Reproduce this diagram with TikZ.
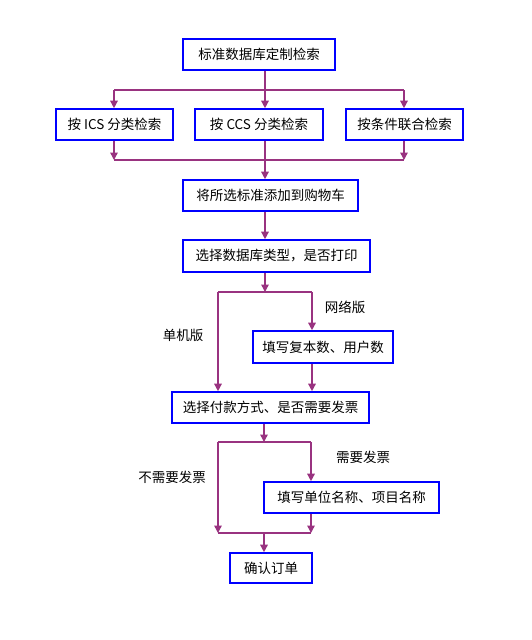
\documentclass[tikz,border=0pt]{standalone}
\usepackage{fontspec}
\setmainfont{Noto Sans CJK SC}
\definecolor{boxblue}{HTML}{0000FF}
\definecolor{linkplum}{HTML}{993380}
\usetikzlibrary{arrows.meta, positioning, calc}
\tikzset{
	stepbox/.style={draw=boxblue, line width=1.6pt, fill=white, inner sep=0pt,
			minimum height=31pt, font=\fontsize{13.5}{15}\selectfont}
}
\tikzset{
	link/.style={draw=linkplum, line width=1.4pt}
}
\tikzset{
	arr/.style={link, -{Triangle[length=7.5pt,width=7.5pt]}}
}
\tikzset{
	branchtext/.style={font=\fontsize{13.5}{15}\selectfont}
}
\begin{document}
\begin{tikzpicture}[x=1pt,y=-1pt]

			\useasboundingbox (0,0) rectangle (531,640);

			\begin{scope}
				\node[stepbox, minimum width=152pt] (search) at (259,54.5) {标准数据库定制检索};
				\node[stepbox, minimum width=117pt] (ics) at (114.5,124.5) {按 ICS 分类检索};
				\node[stepbox, minimum width=128pt] (ccs) at (259,124.5) {按 CCS 分类检索};
				\node[stepbox, minimum width=117pt] (combo) at (404.5,124.5) {按条件联合检索};
				\node[stepbox, minimum width=175pt] (cart) at (270.5,195.5) {将所选标准添加到购物车};
				\node[stepbox, minimum width=187pt, minimum height=32pt] (dbtype) at (276.5,256) {选择数据库类型，是否打印};
				\node[stepbox, minimum width=140pt, minimum height=32pt] (copies) at (323,347) {填写复本数、用户数};
				\node[stepbox, minimum width=197pt] (pay) at (270.5,407.5) {选择付款方式、是否需要发票};
				\node[stepbox, minimum width=175pt] (unit) at (351.5,497.5) {填写单位名称、项目名称};
				\node[stepbox, minimum width=82pt, minimum height=30pt] (confirm) at (271,568) {确认订单};
			\end{scope}

			\begin{scope}
				\coordinate (sA) at (265,90);
				\coordinate (sAl) at (114,90);
				\coordinate (sAr) at (404,90);
				\coordinate (mA) at (265,160);
				\coordinate (mAl) at (114,160);
				\coordinate (mAr) at (404,160);

				\draw[link] (search.south -| sA) -- (sA);
				\draw[link] (sAl) -- (sAr);
				\draw[arr] (sAl) -- (ics.north -| sAl);
				\draw[arr] (sA) -- (ccs.north -| sA);
				\draw[arr] (sAr) -- (combo.north -| sAr);

				\draw[arr] (ics.south -| mAl) -- (mAl);
				\draw[arr] (combo.south -| mAr) -- (mAr);
				\draw[link] (mAl) -- (mAr);
				\draw[arr] (ccs.south -| mA) -- (cart.north -| mA);
				\draw[arr] (cart.south -| mA) -- (dbtype.north -| mA);
			\end{scope}

			\begin{scope}
				\coordinate (sB) at (265,292);
				\coordinate (sBl) at (218,292);
				\coordinate (sBr) at (312,292);

				\draw[arr] (dbtype.south -| sB) -- (sB);
				\draw[link] (sBl) -- (sBr);
				\draw[arr] (sBr) -- (copies.north -| sBr);
				\draw[arr] (sBl) -- (pay.north -| sBl);
				\draw[arr] (copies.south -| sBr) -- (pay.north -| sBr);

				\node[branchtext] (net) at (345,307) {网络版};
				\node[branchtext] (single) at (183,335) {单机版};
			\end{scope}

			\begin{scope}
				\coordinate (sC) at (264,442);
				\coordinate (sCl) at (218,442);
				\coordinate (sCr) at (311,442);
				\coordinate (mC) at (264,533);
				\coordinate (mCl) at (218,533);
				\coordinate (mCr) at (311,533);

				\draw[arr] (pay.south -| sC) -- (sC);
				\draw[link] (sCl) -- (sCr);
				\draw[arr] (sCr) -- (unit.north -| sCr);
				\draw[arr] (sCl) -- (mCl);
				\draw[arr] (unit.south -| mCr) -- (mCr);
				\draw[link] (mCl) -- (mCr);
				\draw[arr] (mC) -- (confirm.north -| mC);

				\node[branchtext] (invoice) at (363,457) {需要发票};
				\node[branchtext] (noinvoice) at (172,477) {不需要发票};
			\end{scope}

		\end{tikzpicture}
\end{document}
